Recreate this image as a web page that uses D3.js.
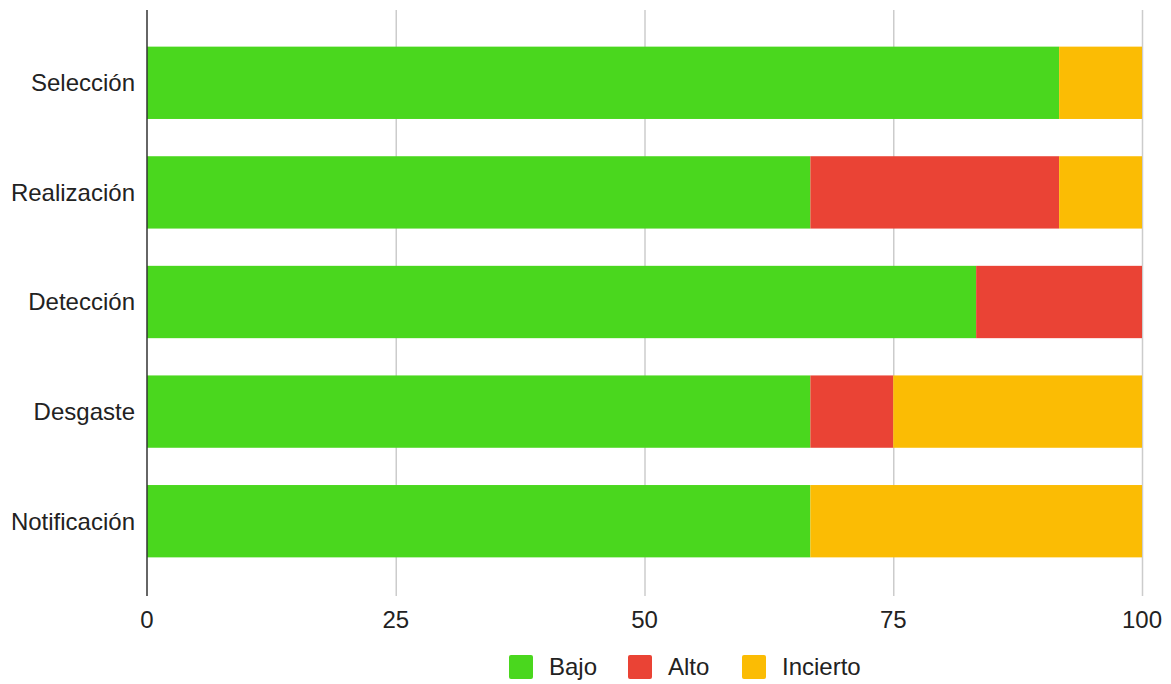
<!DOCTYPE html>
<html>
<head>
<meta charset="utf-8">
<script src="https://cdn.jsdelivr.net/npm/d3@7"></script>
<style>
  body { margin: 0; background: #fff; }
  text { font-family: "Liberation Sans", Arial, sans-serif; }
</style>
</head>
<body>
<div id="chart"></div>
<script>
// data (percent)
var categories = ["Selección", "Realización", "Detección", "Desgaste", "Notificación"];
var seriesNames = ["Bajo", "Alto", "Incierto"];
var bajo = [91.67, 66.67, 83.33, 66.67, 66.67];
var alto = [0, 25, 16.67, 8.33, 0];
var incierto = [8.33, 8.33, 0, 25, 33.33];
var xTicks = [0, 25, 50, 75, 100];
var colors = ["#4ad71e", "#ea4335", "#fbbc04"];

var width = 1171, height = 684;
var margin = { top: 10, right: 29, bottom: 92, left: 147 };

var svg = d3.select("#chart")
  .append("svg")
  .attr("width", width)
  .attr("height", height);

var x = d3.scaleLinear()
  .domain([0, 100])
  .range([margin.left, width - margin.right]);

var y = d3.scaleBand()
  .domain(categories)
  .range([28, 576])
  .paddingInner(0.34)
  .paddingOuter(0.17);

var rows = categories.map(function(c, i) {
  return { cat: c, Bajo: bajo[i], Alto: alto[i], Incierto: incierto[i] };
});
var stacked = d3.stack().keys(seriesNames)(rows);

// grid lines
svg.append("g")
  .selectAll("line")
  .data(xTicks.slice(1))
  .enter()
  .append("line")
  .attr("x1", function(d) { return x(d) + 0.5; })
  .attr("x2", function(d) { return x(d) + 0.5; })
  .attr("y1", margin.top)
  .attr("y2", height - margin.bottom + 4)
  .attr("stroke", "#cccccc")
  .attr("stroke-width", 1.5);

// bars
svg.append("g")
  .selectAll("g")
  .data(stacked)
  .enter()
  .append("g")
  .attr("fill", function(d, i) { return colors[i]; })
  .selectAll("rect")
  .data(function(d) { return d.filter(function(p) { return p[1] - p[0] > 0; }); })
  .enter()
  .append("rect")
  .attr("x", function(d) { return x(d[0]); })
  .attr("y", function(d) { return y(d.data.cat); })
  .attr("width", function(d) { return x(d[1]) - x(d[0]); })
  .attr("height", y.bandwidth());

// left axis line
svg.append("line")
  .attr("x1", x(0))
  .attr("x2", x(0))
  .attr("y1", margin.top)
  .attr("y2", height - margin.bottom + 4)
  .attr("stroke", "#333333")
  .attr("stroke-width", 1.5);

// category labels
svg.append("g")
  .selectAll("text")
  .data(categories)
  .enter()
  .append("text")
  .attr("x", x(0) - 12)
  .attr("y", function(d) { return y(d) + y.bandwidth() / 2; })
  .attr("dy", "0.35em")
  .attr("text-anchor", "end")
  .attr("font-size", 24)
  .attr("fill", "#222")
  .text(function(d) { return d; });

// x tick labels
svg.append("g")
  .selectAll("text")
  .data(xTicks)
  .enter()
  .append("text")
  .attr("x", function(d) { return x(d); })
  .attr("y", 620)
  .attr("dy", "0.35em")
  .attr("text-anchor", "middle")
  .attr("font-size", 24)
  .attr("fill", "#222")
  .text(function(d) { return d; });

// legend
var legendX = [509, 628, 742];
var legend = svg.append("g")
  .selectAll("g")
  .data(seriesNames)
  .enter()
  .append("g")
  .attr("transform", function(d, i) { return "translate(" + legendX[i] + ",655)"; });
legend.append("rect")
  .attr("width", 24)
  .attr("height", 24)
  .attr("rx", 2)
  .attr("fill", function(d, i) { return colors[i]; });
legend.append("text")
  .attr("x", 40)
  .attr("y", 12)
  .attr("dy", "0.35em")
  .attr("font-size", 24)
  .attr("fill", "#222")
  .text(function(d) { return d; });
</script>
</body>
</html>
